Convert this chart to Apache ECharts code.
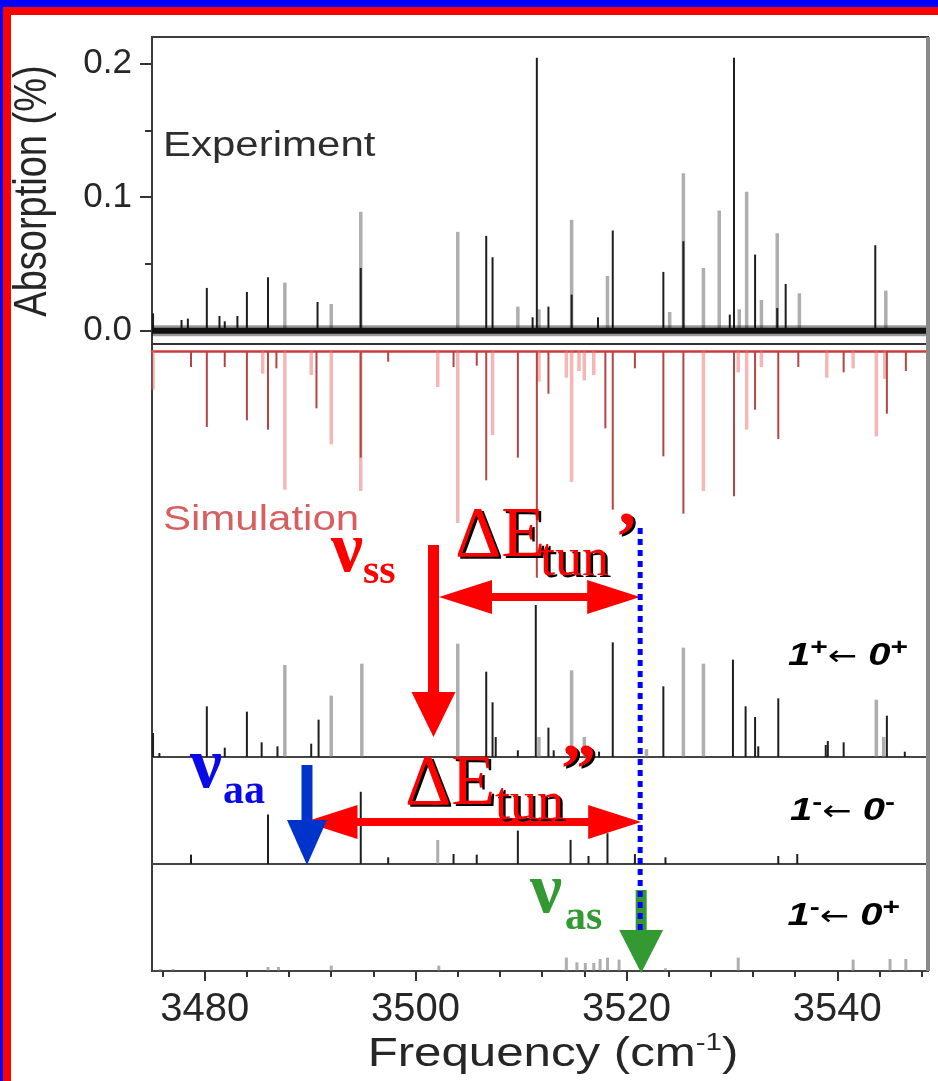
<!DOCTYPE html>
<html>
<head>
<meta charset="utf-8">
<script src="https://cdn.jsdelivr.net/npm/echarts@6.0.0/dist/echarts.min.js"></script>
<style>
  html, body { margin: 0; padding: 0; background: #fff; }
  #chart { width: 938px; height: 1081px; }
</style>
</head>
<body>
<div id="chart"></div>
<script>
// axis ranges and ticks
const freqMin = 3475
const freqMax = 3548.6
const freqTicks = [3480, 3500, 3520, 3540]
const freqMinorTicks = [3476, 3484, 3488, 3492, 3496, 3504, 3508, 3512, 3516, 3524, 3528, 3532, 3536, 3544, 3548]
const absTicks = [0, 0.1, 0.2]
const absMinorTicks = [0.05, 0.15]

// experiment, [frequency, absorption %]
const expGray = [
  [3487.6, 0.036], [3492.0, 0.020], [3494.8, 0.089], [3504.0, 0.074], [3509.7, 0.018],
  [3511.7, 0.016], [3514.8, 0.083], [3518.2, 0.041], [3524.1, 0.014], [3525.4, 0.118],
  [3527.3, 0.047], [3528.8, 0.090], [3530.7, 0.016], [3531.4, 0.104], [3532.8, 0.023],
  [3534.3, 0.073], [3536.4, 0.028], [3544.6, 0.030]
]
const expBlack = [
  [3475.1, 0.013], [3477.8, 0.008], [3478.4, 0.009], [3480.2, 0.032], [3481.4, 0.011],
  [3481.9, 0.007], [3483.1, 0.011], [3484.0, 0.029], [3486.0, 0.040], [3490.7, 0.0215],
  [3494.8, 0.047], [3506.7, 0.071], [3507.3, 0.055], [3511.1, 0.010], [3511.5, 0.2045],
  [3512.6, 0.018], [3514.8, 0.027], [3517.3, 0.010], [3518.7, 0.075], [3523.5, 0.044],
  [3525.4, 0.067], [3529.8, 0.012], [3530.2, 0.2045], [3532.2, 0.057], [3534.3, 0.017],
  [3535.1, 0.035], [3543.6, 0.064]
]
const expBaseline = [[freqMin, 0], [freqMax, 0]]

// simulation (drawn downward)
const simLight = [
  [3475.1, 0.029], [3485.5, 0.017], [3487.6, 0.104], [3490.1, 0.018], [3492.0, 0.070],
  [3494.8, 0.105], [3502.1, 0.027], [3504.0, 0.129], [3507.3, 0.063], [3511.7, 0.023],
  [3514.3, 0.020], [3514.8, 0.098], [3515.5, 0.015], [3516.0, 0.022], [3516.9, 0.018],
  [3527.3, 0.105], [3530.6, 0.016], [3531.4, 0.059], [3532.8, 0.012], [3539.0, 0.020],
  [3541.5, 0.013], [3543.7, 0.064], [3544.5, 0.021]
]
const simDark = [
  [3478.7, 0.012], [3480.2, 0.057], [3481.9, 0.012], [3484.0, 0.052], [3486.0, 0.059],
  [3486.8, 0.013], [3490.6, 0.043], [3494.8, 0.080], [3497.4, 0.008], [3503.6, 0.012],
  [3505.8, 0.011], [3506.7, 0.097], [3509.7, 0.080], [3511.5, 0.170], [3512.6, 0.032],
  [3518.0, 0.058], [3518.7, 0.119], [3520.8, 0.013], [3523.5, 0.079], [3525.4, 0.122],
  [3530.2, 0.109], [3532.2, 0.044], [3534.4, 0.066], [3536.3, 0.012], [3540.6, 0.016],
  [3544.7, 0.047], [3546.5, 0.015]
]

// 1+ <- 0+
const p1Gray = [
  [3487.6, 0.069], [3492.0, 0.046], [3494.9, 0.070], [3504.0, 0.085], [3511.7, 0.015],
  [3514.8, 0.065], [3516.0, 0.015], [3521.9, 0.006], [3525.4, 0.082], [3527.3, 0.070],
  [3543.7, 0.043], [3544.4, 0.015]
]
const p1Black = [
  [3475.1, 0.018], [3475.7, 0.003], [3480.2, 0.038], [3481.9, 0.007], [3484.0, 0.034],
  [3485.4, 0.011], [3486.9, 0.008], [3490.1, 0.010], [3490.8, 0.028], [3506.7, 0.064],
  [3507.3, 0.041], [3507.6, 0.015], [3509.7, 0.005], [3511.4, 0.114], [3512.6, 0.022],
  [3513.1, 0.005], [3517.4, 0.004], [3518.7, 0.086], [3523.5, 0.053], [3530.1, 0.073],
  [3531.3, 0.038], [3532.2, 0.030], [3532.5, 0.008], [3534.4, 0.044], [3538.9, 0.009],
  [3539.1, 0.012], [3540.6, 0.011], [3544.7, 0.031], [3546.4, 0.004]
]

// 1- <- 0-
const p2Gray = [[3502.1, 0.018]]
const p2Black = [
  [3478.7, 0.007], [3486.0, 0.037], [3494.8, 0.054], [3497.4, 0.005], [3503.6, 0.0075],
  [3505.8, 0.007], [3509.7, 0.025], [3514.7, 0.018], [3516.4, 0.006], [3518.2, 0.023],
  [3520.8, 0.0075], [3523.7, 0.005], [3534.4, 0.006], [3536.2, 0.0075]
]

// 1- <- 0+
const p3Gray = [
  [3475.8, 0.0015], [3477.0, 0.0015], [3486.0, 0.003], [3487.0, 0.003], [3492.0, 0.004],
  [3502.2, 0.004], [3514.3, 0.010], [3515.3, 0.0065], [3516.1, 0.006], [3516.9, 0.006],
  [3517.5, 0.009], [3518.2, 0.010], [3519.3, 0.0085], [3523.7, 0.002], [3530.6, 0.010],
  [3541.5, 0.0085], [3545.0, 0.009], [3546.5, 0.009]
]

// annotated band positions (cm-1)
const nuSS = 3501.7
const nuAA = 3489.7
const nuAS = 3521.3

const chart = echarts.init(document.getElementById('chart'))

const L = 152
const R = 10
const gridBase = { left: L, right: R, outerBoundsMode: 'none', containLabel: false }
const xBase = {
  type: 'value', min: freqMin, max: freqMax,
  splitLine: { show: false }, axisLabel: { show: false }, axisTick: { show: false }
}
const yBase = {
  type: 'value', splitLine: { show: false }, axisLine: { show: false },
  axisTick: { show: false }, axisLabel: { show: false }
}
const baseLine = (color, width) => ({ show: true, onZero: false, lineStyle: { color, width } })

const stick = (color, width) => (params, api) => {
  const p0 = api.coord([api.value(0), 0])
  const p1 = api.coord([api.value(0), api.value(1)])
  return {
    type: 'line',
    shape: { x1: p0[0], y1: p0[1], x2: p1[0], y2: p1[1] },
    style: { stroke: color, lineWidth: width }
  }
}
const sticks = (data, idx, color, width) => ({
  type: 'custom', xAxisIndex: idx, yAxisIndex: idx, data, silent: true,
  renderItem: stick(color, width)
})

const GRAY = 'rgba(120,120,120,0.6)'
const BLACK = '#1e1e1e'

chart.setOption({
  animation: false,
  backgroundColor: '#fff',
  grid: [
    { ...gridBase, top: 37, height: 307 },
    { ...gridBase, top: 351, height: 200 },
    { ...gridBase, top: 557, height: 200 },
    { ...gridBase, top: 757, height: 107 },
    { ...gridBase, top: 864, height: 107 },
    { ...gridBase, top: 37, bottom: 110, show: true, borderColor: '#3c3c3c', borderWidth: 2, backgroundColor: 'transparent' }
  ],
  xAxis: [
    { ...xBase, gridIndex: 0, position: 'bottom', axisLine: baseLine('#333', 2) },
    { ...xBase, gridIndex: 1, position: 'top', axisLine: baseLine('#cc3b3b', 2.5) },
    { ...xBase, gridIndex: 2, position: 'bottom', axisLine: baseLine('#444', 2) },
    { ...xBase, gridIndex: 3, position: 'bottom', axisLine: baseLine('#444', 2) },
    {
      ...xBase, gridIndex: 4, position: 'bottom', axisLine: baseLine('#444', 2),
      axisTick: { show: true, customValues: freqTicks, length: 10, lineStyle: { color: '#333', width: 2 } },
      axisLabel: {
        show: true, customValues: freqTicks, margin: 19, color: '#262626',
        fontSize: 40, fontFamily: 'Liberation Sans', formatter: (v) => String(v)
      }
    },
    {
      ...xBase, gridIndex: 4, position: 'bottom', axisLine: { show: false },
      axisTick: { show: true, customValues: freqMinorTicks, length: 6, lineStyle: { color: '#333', width: 2 } }
    },
    { ...xBase, gridIndex: 5, show: false }
  ],
  yAxis: [
    {
      ...yBase, gridIndex: 0, min: -0.01, max: 0.22, position: 'left',
      axisTick: { show: true, customValues: absTicks, length: 12, lineStyle: { color: '#333', width: 2 } },
      axisLabel: {
        show: true, customValues: absTicks, formatter: (v) => v.toFixed(1), margin: 20,
        color: '#262626', fontSize: 35, fontFamily: 'Liberation Sans'
      }
    },
    { ...yBase, gridIndex: 1, min: 0, max: 0.15, inverse: true },
    { ...yBase, gridIndex: 2, min: 0, max: 0.15 },
    { ...yBase, gridIndex: 3, min: 0, max: 0.08 },
    { ...yBase, gridIndex: 4, min: 0, max: 0.08 },
    {
      ...yBase, gridIndex: 0, min: -0.01, max: 0.22, position: 'left', offset: 0,
      axisTick: { show: true, customValues: absMinorTicks, length: 7, lineStyle: { color: '#333', width: 2 } }
    },
    { ...yBase, gridIndex: 5, min: 0, max: 1, show: false }
  ],
  series: [
    {
      type: 'line', xAxisIndex: 0, yAxisIndex: 0, data: expBaseline, symbol: 'none', silent: true,
      lineStyle: { color: 'rgba(0,0,0,0.4)', width: 11 }
    },
    {
      type: 'line', xAxisIndex: 0, yAxisIndex: 0, data: expBaseline, symbol: 'none', silent: true,
      lineStyle: { color: '#111', width: 6 }
    },
    sticks(expGray, 0, GRAY, 3.5),
    sticks(expBlack, 0, BLACK, 2),
    sticks(simLight, 1, 'rgba(235,110,110,0.5)', 3.5),
    sticks(simDark, 1, '#b54444', 2),
    sticks(p1Gray, 2, GRAY, 3.5),
    sticks(p1Black, 2, BLACK, 2),
    sticks(p2Gray, 3, GRAY, 3),
    sticks(p2Black, 3, BLACK, 2),
    sticks(p3Gray, 4, GRAY, 3)
  ]
})

// ---- annotations ----
const X = (v) => chart.convertToPixel({ xAxisIndex: 0 }, v)
const xs = X(nuSS)
const xa = X(nuAA)
const xd = X(nuAS)

const RED = '#ff0000'
const BLUE = '#0033cc'
const GREEN = '#339933'

const seg = (x1, y1, x2, y2, color, w, dash) => ({
  type: 'line', z: 100, silent: true,
  shape: { x1, y1, x2, y2 },
  style: { stroke: color, lineWidth: w, lineDash: dash || null }
})
const tri = (pts, color) => ({ type: 'polygon', z: 100, silent: true, shape: { points: pts }, style: { fill: color } })
const hArrow = (x1, x2, y, color) => {
  const hl = 53, hh = 17
  return [
    seg(x1 + hl - 2, y, x2 - hl + 2, y, color, 8),
    tri([[x1, y], [x1 + hl, y - hh], [x1 + hl, y + hh]], color),
    tri([[x2, y], [x2 - hl, y - hh], [x2 - hl, y + hh]], color)
  ]
}
const vArrow = (x, y1, y2, color, hw, hl) => [
  seg(x, y1, x, y2 - hl + 2, color, 11),
  tri([[x - hw, y2 - hl], [x + hw, y2 - hl], [x, y2]], color)
]
// text placed by its baseline
const txt = (text, x, base, size, o = {}) => ({
  type: 'text', z: 110, silent: true, x, y: base - 0.34 * size,
  scaleX: o.sx || 1, scaleY: o.sy || 1, rotation: o.rot || 0,
  style: {
    text, fill: o.fill || '#000', fontSize: size, fontFamily: o.family || 'Liberation Serif',
    fontWeight: o.weight || 'normal', fontStyle: o.style || 'normal',
    align: o.align || 'left', verticalAlign: 'middle', rich: o.rich
  }
})
const shadowTxt = (text, x, base, size, o = {}) => [
  txt(text, x + 2.5, base + 2, size, { ...o, fill: '#000' }),
  txt(text, x, base, size, { ...o, fill: RED })
]
const panelRich = {
  d: { fontSize: 32, fontFamily: 'Liberation Sans', fontWeight: 'bold', fontStyle: 'italic', lineHeight: 36, verticalAlign: 'bottom' },
  p: { fontSize: 24, fontFamily: 'Liberation Sans', fontWeight: 'bold', lineHeight: 36, verticalAlign: 'top', padding: [0, 0, 14, 0] },
  a: { fontSize: 28, fontFamily: 'DejaVu Sans', lineHeight: 36, verticalAlign: 'bottom' }
}
const panelLabel = (text, xr, base) => txt(text, xr, base, 32, { align: 'right', sx: 1.25, rich: panelRich, family: 'Liberation Sans', weight: 'bold', style: 'italic' })

const graphics = [
  // page frame
  { type: 'rect', silent: true, shape: { x: 0, y: 0, width: 938, height: 7 }, style: { fill: '#0000ff' } },
  { type: 'rect', silent: true, shape: { x: 0, y: 0, width: 3, height: 1081 }, style: { fill: '#0000ff' } },
  { type: 'rect', silent: true, shape: { x: 3, y: 7, width: 935, height: 8 }, style: { fill: '#ff0000' } },
  { type: 'rect', silent: true, shape: { x: 3, y: 7, width: 8, height: 1074 }, style: { fill: '#ff0000' } },
  { type: 'rect', silent: true, z: 50, shape: { x: 926, y: 37, width: 4, height: 934 }, style: { fill: '#8a8a8a' } },

  // axis titles and panel names
  txt('Absorption (%)', 33, 191 + 0.34 * 38, 38, { family: 'Liberation Sans', fill: '#262626', align: 'center', rot: Math.PI / 2, sy: 1.2 }),
  txt('{m|Frequency (cm}{s|-1}{m|)}', 553, 1067, 40, {
    family: 'Liberation Sans', fill: '#262626', align: 'center', sx: 1.23,
    rich: {
      m: { fontSize: 40, fontFamily: 'Liberation Sans', fill: '#262626', lineHeight: 44, verticalAlign: 'bottom' },
      s: { fontSize: 24, fontFamily: 'Liberation Sans', fill: '#262626', lineHeight: 44, verticalAlign: 'top' }
    }
  }),
  txt('Experiment', 163, 158, 35, { family: 'Liberation Sans', fill: '#2e2e2e', sx: 1.2 }),
  txt('Simulation', 163, 532, 35, { family: 'Liberation Sans', fill: 'rgba(205,55,55,0.8)', sx: 1.2 }),
  panelLabel('{d|1}{p|+}{a|←}{d| 0}{p|+}', 908, 665),
  panelLabel('{d|1}{p|-}{a|←}{d| 0}{p|-}', 895, 820),
  panelLabel('{d|1}{p|-}{a|←}{d| 0}{p|+}', 900, 925),

  // nu_ss and Delta E tun'
  ...vArrow(xs, 545, 737, RED, 22, 45),
  ...hArrow(xs + 5.5, xd, 597, RED),
  txt('ν', 331, 577, 72, { fill: RED, weight: 'bold' }),
  txt('ss', 363, 586, 42, { fill: RED, weight: 'bold' }),
  ...shadowTxt('ΔE', 455, 562, 72),
  ...shadowTxt('tun', 540, 579, 54),
  ...shadowTxt('’', 615, 566, 70, { weight: 'bold' }),

  // nu_aa and Delta E tun''
  ...hArrow(xa - 2.5, xd + 1, 822, RED),
  ...vArrow(xa, 765, 865, BLUE, 20, 45),
  txt('ν', 190, 793, 72, { fill: '#0a0ae6', weight: 'bold' }),
  txt('aa', 223, 806, 42, { fill: '#0a0ae6', weight: 'bold' }),
  ...shadowTxt('ΔE', 405, 810, 72),
  ...shadowTxt('tun', 495, 823, 54),
  ...shadowTxt('”', 561, 798, 70, { weight: 'bold' }),

  // nu_as
  ...vArrow(xd + 1, 890, 973, GREEN, 22, 43),
  txt('ν', 530, 918, 72, { fill: GREEN, weight: 'bold' }),
  txt('as', 565, 932, 42, { fill: GREEN, weight: 'bold' }),

  // dotted marker line
  seg(xd, 528, xd, 933, '#0000ff', 5, [6, 5])
]

chart.setOption({ graphic: graphics })
</script>
</body>
</html>
